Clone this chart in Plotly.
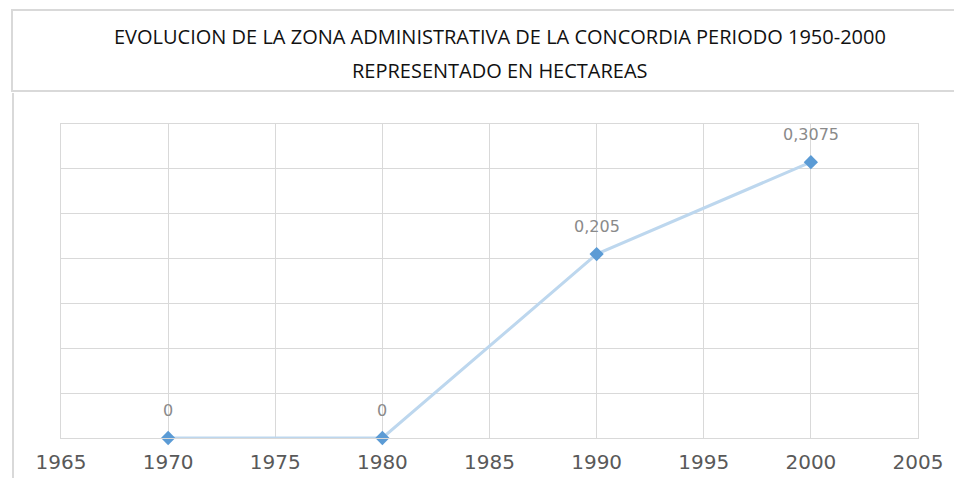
import plotly.graph_objects as go

# Series: administrative zone area (hectares) per census year
years = [1970, 1980, 1990, 2000]
area_ha = [0, 0, 0.205, 0.3075]

title_lines = [
    "EVOLUCION DE LA ZONA ADMINISTRATIVA DE LA CONCORDIA PERIODO 1950-2000",
    "REPRESENTADO EN HECTAREAS",
]

x_ticks = [1965, 1970, 1975, 1980, 1985, 1990, 1995, 2000, 2005]


def fmt(v):
    s = ("%g" % v)
    return s.replace(".", ",")


W, H = 954, 478
L, R, T, B = 61, 36, 124, 40
pw, ph = W - L - R, H - T - B


def px(x):
    return (x - L) / pw


def py(y):
    return (H - B - y) / ph


fig = go.Figure()

fig.add_trace(go.Scatter(
    x=years, y=area_ha,
    mode="lines+markers",
    line=dict(color="#bdd7ee", width=3),
    marker=dict(symbol="diamond", size=11, color="#5b9bd5"),
    hoverinfo="x+y",
    showlegend=False,
    cliponaxis=False,
))

annotations = []
for xv, yv in zip(years, area_ha):
    annotations.append(dict(
        x=xv, y=yv, xref="x", yref="y",
        text=fmt(yv), showarrow=False, yshift=28,
        font=dict(family="DejaVu Sans", size=16, color="#8a8a8a"),
    ))

title_font = dict(family="Liberation Sans Narrow, Open Sans, sans-serif", size=20, color="#111111")
for line, ypix in zip(title_lines, [36, 70]):
    annotations.append(dict(
        x=px(500), y=py(ypix), xref="paper", yref="paper",
        text=line, showarrow=False, xanchor="center", yanchor="middle",
        font=title_font,
    ))

border = "#d9d9d9"
shapes = [
    # title frame
    dict(type="rect", xref="paper", yref="paper",
         x0=px(12), x1=px(1000), y0=py(91), y1=py(10),
         line=dict(color=border, width=2), layer="below"),
    # outer chart frame, left edge
    dict(type="line", xref="paper", yref="paper",
         x0=px(13), x1=px(13), y0=py(93), y1=py(490),
         line=dict(color=border, width=2), layer="below"),
]

fig.update_layout(
    width=W, height=H,
    margin=dict(l=L, r=R, t=T, b=B, autoexpand=False),
    paper_bgcolor="white", plot_bgcolor="white",
    annotations=annotations,
    shapes=shapes,
    xaxis=dict(
        range=[1965, 2005], tickvals=x_ticks,
        ticktext=[str(t) for t in x_ticks],
        showgrid=True, gridcolor="#d9d9d9", gridwidth=1.3,
        zeroline=False, showline=True, linecolor="#d9d9d9", linewidth=1.3, mirror=True,
        ticks="", tickfont=dict(family="DejaVu Sans", size=20, color="#595959"),
        ticklabelstandoff=6, automargin=False,
    ),
    yaxis=dict(
        range=[0, 0.35], dtick=0.05,
        showgrid=True, gridcolor="#d9d9d9", gridwidth=1.3,
        zeroline=False, showline=True, linecolor="#d9d9d9", linewidth=1.3, mirror=True,
        showticklabels=False, ticks="", automargin=False,
    ),
)

fig.write_html("out.html")
